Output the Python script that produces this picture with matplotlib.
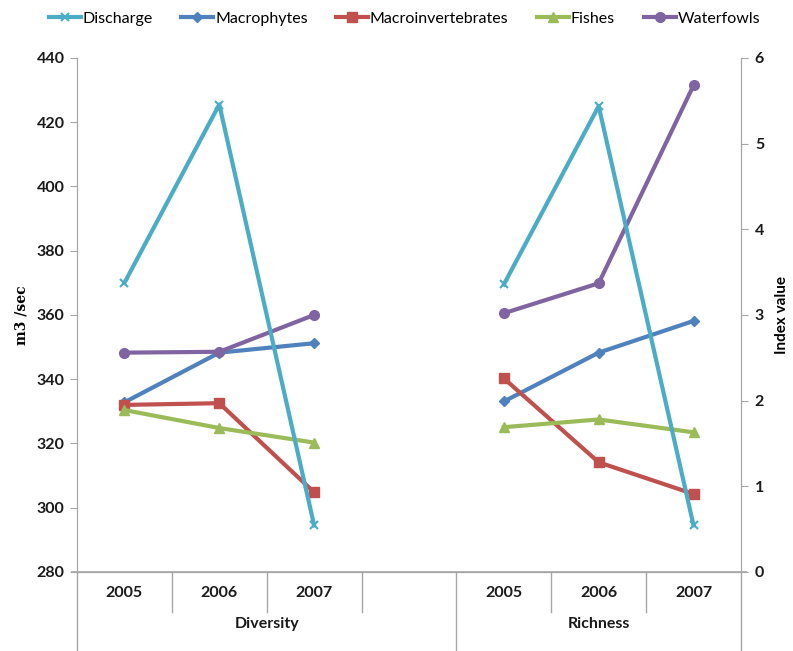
import numpy as np
import matplotlib
matplotlib.use("Agg")
import matplotlib.pyplot as plt
import matplotlib.transforms as mtransforms

plt.rcParams['font.family'] = ['Lato', 'DejaVu Sans']

# categories: Diversity group has an empty 4th slot
years = ['2005', '2006', '2007', '', '2005', '2006', '2007']
groups = ['Diversity', 'Richness']
group_centers = [1.5, 5]

nan = np.nan
discharge = [370, 425.5, 294.5, nan, 369.5, 425, 294.5]
macrophytes = [1.98, 2.56, 2.67, nan, 1.99, 2.56, 2.93]
macroinvertebrates = [1.95, 1.97, 0.93, nan, 2.26, 1.28, 0.91]
fishes = [1.89, 1.68, 1.51, nan, 1.69, 1.78, 1.63]
waterfowls = [2.56, 2.57, 3.0, nan, 3.02, 3.37, 5.68]

x = np.arange(len(years))
grey = '#A6A6A6'
txt = '#1a1a1a'

fig = plt.figure(figsize=(7.93, 6.51), dpi=100)
ax = fig.add_axes([0.0971, 0.1214, 0.8373, 0.7896])
ax2 = ax.twinx()

lw = 3.0
h_dis, = ax.plot(x, discharge, color='#4BACC6', lw=lw, marker='x', ms=6, mew=1.5, label='Discharge')
h_mac, = ax2.plot(x, macrophytes, color='#4F81BD', lw=lw, marker='D', ms=5, label='Macrophytes')
h_inv, = ax2.plot(x, macroinvertebrates, color='#C0504D', lw=lw, marker='s', ms=7, label='Macroinvertebrates')
h_fis, = ax2.plot(x, fishes, color='#9BBB59', lw=lw, marker='^', ms=7, label='Fishes')
h_wat, = ax2.plot(x, waterfowls, color='#8064A2', lw=lw, marker='o', ms=7, label='Waterfowls')

# discharge drawn on top
ax.set_zorder(ax2.get_zorder() + 1)
ax.patch.set_visible(False)

ax.set_xlim(-0.5, 6.5)
ax.set_ylim(280, 440)
ax.set_yticks(np.arange(280, 441, 20))
ax2.set_ylim(0, 6)
ax2.set_yticks(range(0, 7))

for a in (ax, ax2):
    for s in a.spines.values():
        s.set_color(grey)
    a.spines['top'].set_visible(False)
    a.tick_params(axis='y', colors=grey, length=5, labelcolor=txt, labelsize=11.5)
    for lab in a.get_yticklabels():
        lab.set_fontweight('bold')

ax.tick_params(axis='y', pad=4)
ax2.tick_params(axis='y', pad=5)

# category axis
ax.set_xticks([])
ax2.set_xticks([])
trans = mtransforms.blended_transform_factory(ax.transData, ax.transAxes)
for i, lab in enumerate(years):
    ax.text(x[i], -0.04, lab, transform=trans, ha='center', va='center',
            fontsize=11.5, fontweight='bold', color=txt)
for g, c in zip(groups, group_centers):
    ax.text(c, -0.101, g, transform=trans, ha='center', va='center',
            fontsize=11.5, fontweight='bold', color=txt)

short = [0.5, 1.5, 2.5, 4.5, 5.5]
long_ = [-0.5, 3.5, 6.5]
for s in short:
    ax.plot([s, s], [0, -0.078], transform=trans, color=grey, lw=1, clip_on=False)
for s in long_:
    ax.plot([s, s], [0, -0.154], transform=trans, color=grey, lw=1, clip_on=False)
ax.plot([-0.55, 6.55], [0, 0], transform=trans, color=grey, lw=1.2, clip_on=False)

ax.set_ylabel('m3 /sec', fontsize=10, fontweight='bold', family='DejaVu Serif', labelpad=6)
ax2.set_ylabel('Index value', fontsize=11, fontweight='bold', labelpad=8)

fig.legend(handles=[h_dis, h_mac, h_inv, h_fis, h_wat], loc='upper center',
           bbox_to_anchor=(0.51, 1.004), ncol=5, frameon=False, fontsize=11.5,
           handlelength=2.0, handletextpad=0.1, columnspacing=1.8)

fig.savefig('out.png', dpi=100)
